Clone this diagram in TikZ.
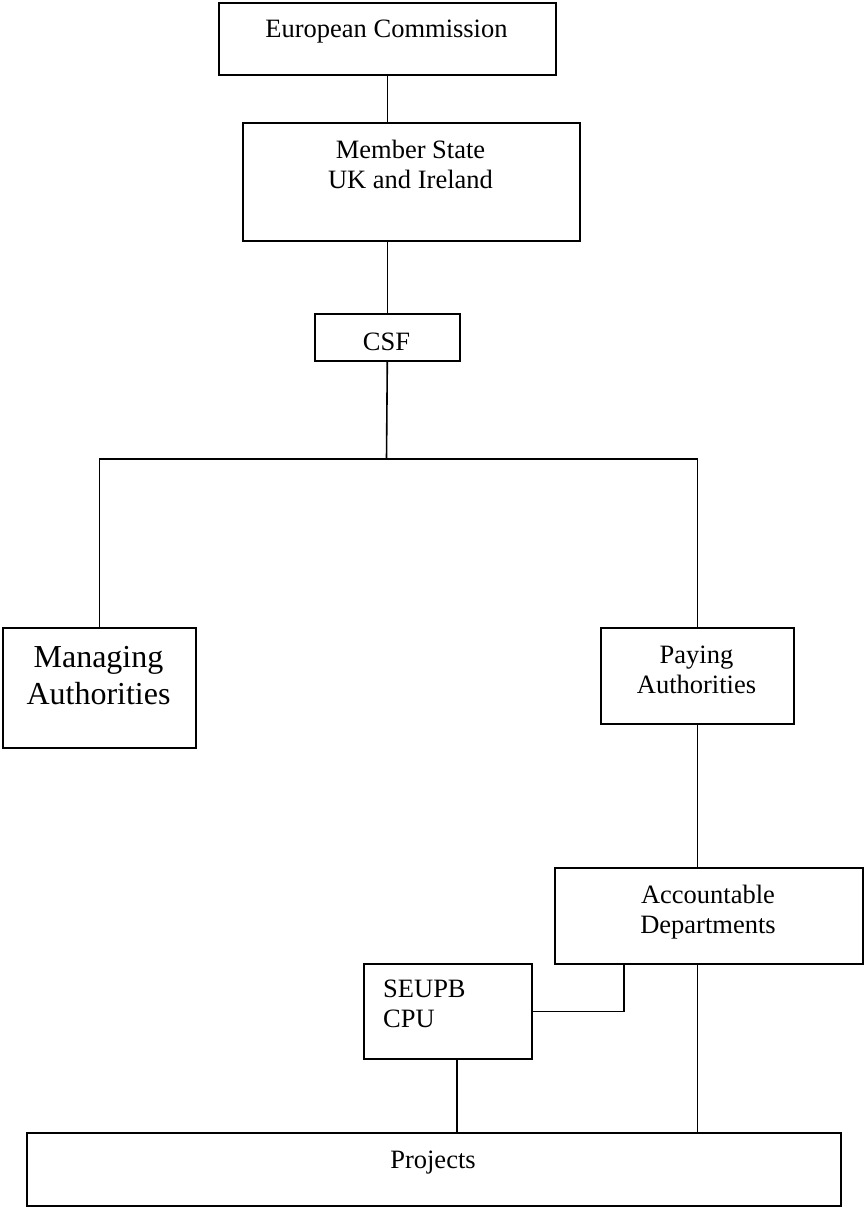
\documentclass[tikz,border=0pt]{standalone}
\usepackage{fontspec}
\setmainfont{Liberation Serif}

\tikzset{
  box/.style={draw, line width=1.6pt, inner sep=0pt, anchor=north west},
  boxtext/.style={font=\fontsize{26.5}{30.5}\selectfont, align=center, anchor=base, inner sep=0pt},
  bigtext/.style={boxtext, font=\fontsize{32}{37}\selectfont},
  link/.style={draw, line width=1.6pt},
}

\begin{document}
\begin{tikzpicture}[x=1pt,y=-1pt]

      \useasboundingbox (0,0) rectangle (867,1207);

      % boxes
      \node[box, minimum width=337pt, minimum height=72pt]  (ec)    at (218,2)    {};
      \node[box, minimum width=337pt, minimum height=118pt] (ms)    at (242,122)  {};
      \node[box, minimum width=145pt, minimum height=47pt]  (csf)   at (314,313)  {};
      \node[box, minimum width=193pt, minimum height=120pt] (ma)    at (2,627)    {};
      \node[box, minimum width=193pt, minimum height=96pt]  (pa)    at (600,627)  {};
      \node[box, minimum width=308pt, minimum height=96pt]  (ad)    at (554,867)  {};
      \node[box, minimum width=168pt, minimum height=95pt]  (seupb) at (363,963)  {};
      \node[box, minimum width=814pt, minimum height=73pt]  (pr)    at (26,1132)  {};

      % texts (base = last line)
      \node[boxtext] (ec-text)  at (386.5,38)   {European Commission};
      \node[boxtext] (ms-text)  at (410.5,188.5) {Member State\\UK and Ireland};
      \node[boxtext] (csf-text) at (386.5,350)  {CSF};
      \node[bigtext] (ma-text)  at (98.5,704)   {Managing\\Authorities};
      \node[boxtext] (pa-text)  at (696.5,693.5) {Paying\\Authorities};
      \node[boxtext] (ad-text)  at (708,933.5)  {Accountable\\Departments};
      \node[boxtext, align=left, anchor=base west] (seupb-text) at (383,1027.5) {SEUPB\\CPU};
      \node[boxtext] (pr-text)  at (433,1168)   {Projects};

      % connectors
      \coordinate (split) at (386.5,459);
      \coordinate (tap)   at (624,963);
      \coordinate (drop)  at (457,1058);

      \path[link] (ec.south) -- (ec.south |- ms.north);
      \path[link] (csf.north |- ms.south) -- (csf.north);
      \path[link] (csf.south) -- (split);
      \path[link] (ma.north) |- (split) -| (pa.north);
      \path[link] (pa.south) -- (pa.south |- ad.north);
      \path[link] (pa.south |- ad.south) -- (pa.south |- pr.north);
      \path[link] (seupb.east) -| (tap);
      \path[link] (drop) -- (drop |- pr.north);

    \end{tikzpicture}
\end{document}
